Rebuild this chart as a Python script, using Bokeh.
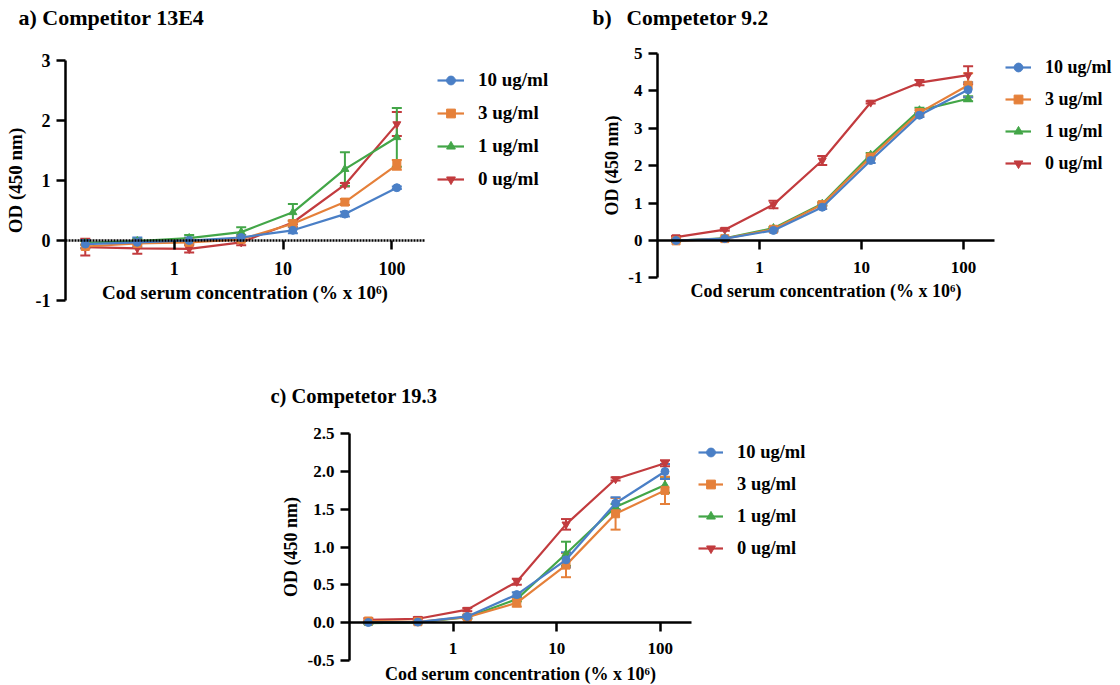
import math
from bokeh.plotting import figure
from bokeh.models import (ColumnDataSource, Whisker, TeeHead, Legend, LegendItem,
                          FixedTicker, Range1d, Label)
from bokeh.layouts import column, row
from bokeh.embed import file_html
from bokeh.resources import INLINE

FONT = "Liberation Serif"

# ---------------- data ----------------
conc = [0.152, 0.457, 1.37, 4.12, 12.3, 37.0, 111.0]
series_names = ["10 ug/ml", "3 ug/ml", "1 ug/ml", "0 ug/ml"]
colors = ["#4a7fc6", "#e5803a", "#43a648", "#c23b3e"]
markers = ["circle", "square", "triangle", "inverted_triangle"]

# a) Competitor 13E4
a_10 = [-0.06, -0.03, 0.00, 0.05, 0.17, 0.44, 0.88]
a_10_sd = [0.07, 0.08, 0.05, 0.04, 0.05, 0.04, 0.02]
a_3 = [-0.10, -0.05, -0.03, 0.02, 0.28, 0.64, 1.26]
a_3_sd = [0.03, 0.03, 0.03, 0.03, 0.05, 0.05, 0.08]
a_1 = [-0.04, -0.01, 0.04, 0.14, 0.47, 1.19, 1.72]
a_1_sd = [0.03, 0.04, 0.05, 0.08, 0.14, 0.28, 0.49]
a_0 = [-0.11, -0.13, -0.14, -0.03, 0.30, 0.93, 1.94]
a_0_sd = [0.14, 0.09, 0.06, 0.05, 0.03, 0.03, 0.20]

# b) Competetor 9.2
b_10 = [0.00, 0.05, 0.27, 0.89, 2.14, 3.35, 4.03]
b_10_sd = [0.02, 0.02, 0.03, 0.05, 0.07, 0.05, 0.20]
b_3 = [-0.01, 0.05, 0.30, 0.96, 2.23, 3.42, 4.15]
b_3_sd = [0.03, 0.02, 0.03, 0.04, 0.05, 0.06, 0.32]
b_1 = [0.00, 0.06, 0.33, 0.98, 2.29, 3.48, 3.79]
b_1_sd = [0.02, 0.02, 0.03, 0.04, 0.05, 0.07, 0.07]
b_0 = [0.09, 0.29, 0.96, 2.14, 3.69, 4.22, 4.42]
b_0_sd = [0.03, 0.03, 0.10, 0.12, 0.03, 0.07, 0.24]

# c) Competetor 19.3
c_10 = [0.00, 0.005, 0.08, 0.37, 0.83, 1.58, 2.00]
c_10_sd = [0.01, 0.01, 0.02, 0.03, 0.10, 0.08, 0.10]
c_3 = [0.02, 0.01, 0.07, 0.26, 0.76, 1.44, 1.75]
c_3_sd = [0.01, 0.01, 0.02, 0.05, 0.16, 0.21, 0.18]
c_1 = [-0.01, 0.00, 0.07, 0.31, 0.91, 1.53, 1.82]
c_1_sd = [0.01, 0.01, 0.02, 0.03, 0.16, 0.04, 0.10]
c_0 = [0.035, 0.05, 0.17, 0.54, 1.30, 1.90, 2.11]
c_0_sd = [0.02, 0.02, 0.02, 0.04, 0.07, 0.02, 0.04]

x_bounds = (0.1, 199.5)
x_ticks = [1, 10, 100]
x_tick_labels = ["1", "10", "100"]
a_yticks = [-1, 0, 1, 2, 3]
a_ylabels = ["-1", "0", "1", "2", "3"]
b_yticks = [-1, 0, 1, 2, 3, 4, 5]
b_ylabels = ["-1", "0", "1", "2", "3", "4", "5"]
c_yticks = [-0.5, 0.0, 0.5, 1.0, 1.5, 2.0, 2.5]
c_ylabels = ["-0.5", "0.0", "0.5", "1.0", "1.5", "2.0", "2.5"]

x_label = "Cod serum concentration (% x 10\u2076)"
y_label = "OD (450 nm)"


def make_panel(title_parts, ys, sds, ybounds, yticks, ylabels, g):
    W, H = g["W"], g["H"]
    ax_px, dec = g["ax_px"], g["dec"]
    y0, u = g["y0"], g["u"]
    lx0 = math.log10(x_bounds[0])
    x_start = 10 ** (lx0 - ax_px / dec)
    x_end = 10 ** (lx0 + (W - ax_px) / dec)
    y_end = y0 / u
    y_start = -(H - y0) / u

    p = figure(x_axis_type="log", x_range=Range1d(x_start, x_end),
               y_range=Range1d(y_start, y_end), width=W, height=H,
               min_border=0, min_border_left=0, min_border_right=0,
               min_border_top=0, min_border_bottom=0,
               output_backend="svg", toolbar_location=None)
    p.outline_line_color = None
    p.xgrid.visible = False
    p.ygrid.visible = False
    p.background_fill_color = "white"
    p.border_fill_color = "white"

    xa = p.xaxis[0]
    xa.fixed_location = 0
    xa.bounds = x_bounds
    xa.ticker = FixedTicker(ticks=x_ticks)
    xa.major_label_overrides = dict(zip(x_ticks, x_tick_labels))
    ya = p.yaxis[0]
    ya.fixed_location = x_bounds[0]
    ya.bounds = ybounds
    ya.ticker = FixedTicker(ticks=yticks)
    ya.major_label_overrides = dict(zip(yticks, ylabels))
    for ax in (xa, ya):
        ax.axis_line_width = 2.5
        ax.axis_line_color = "black"
        ax.major_tick_line_width = 2.5
        ax.major_tick_line_color = "black"
        ax.major_tick_in = 0
        ax.major_tick_out = 9
        ax.minor_tick_line_color = None
        ax.major_label_text_font = FONT
        ax.major_label_text_font_style = "bold"
        ax.major_label_text_font_size = g["tfs"]
        ax.major_label_text_color = "black"
        ax.axis_label_text_font = FONT
        ax.axis_label_text_font_style = "bold"
        ax.axis_label_text_font_size = g["lfs"]
        ax.axis_label_text_color = "black"
    xa.axis_label = x_label
    ya.axis_label = y_label
    xa.major_label_standoff = g["xstand"]
    xa.axis_label_standoff = g["xlstand"]
    ya.major_label_standoff = 6
    ya.axis_label_standoff = g["ylstand"]
    if g.get("dash"):
        xa.axis_line_dash = "2 1"

    rend = {}
    for i in [3, 2, 1, 0]:
        src = ColumnDataSource(dict(x=conc, y=ys[i],
                                    lo=[v - e for v, e in zip(ys[i], sds[i])],
                                    hi=[v + e for v, e in zip(ys[i], sds[i])]))
        w = Whisker(source=src, base="x", upper="hi", lower="lo",
                    line_color=colors[i], line_width=2,
                    upper_head=TeeHead(size=10, line_color=colors[i], line_width=2),
                    lower_head=TeeHead(size=10, line_color=colors[i], line_width=2))
        p.add_layout(w)
        l = p.line("x", "y", source=src, line_color=colors[i], line_width=2.2)
        s = p.scatter("x", "y", source=src, marker=markers[i], size=8,
                      fill_color=colors[i], line_color=colors[i])
        rend[i] = [l, s]
    items = [LegendItem(label=series_names[i], renderers=rend[i]) for i in range(4)]
    leg = Legend(items=items, location=g["legloc"], border_line_color=None,
                 background_fill_alpha=0, padding=0, margin=0,
                 spacing=g["lspace"], glyph_width=g["gw"], glyph_height=22,
                 label_height=20, label_standoff=14,
                 label_text_font=FONT, label_text_font_style="bold",
                 label_text_font_size=g["legfs"], label_text_color="black")
    p.add_layout(leg)

    for text, tx in title_parts:
        p.add_layout(Label(x=tx, y=g["ty"], x_units="screen", y_units="screen",
                           text=text, text_font=FONT, text_font_style="bold",
                           text_font_size=g["titfs"], text_baseline="middle",
                           text_align="left", text_color="black"))
    return p


ga = dict(W=583, H=318, ax_px=65, dec=108.8, y0=240, u=60.0,
          tfs="18px", lfs="19px", xstand=12, xlstand=4, ylstand=7, dash=True,
          legloc=(437, 128), lspace=11, gw=27, legfs="19px",
          ty=301, titfs="22px")
gb = dict(W=537, H=318, ax_px=74, dec=102.0, y0=240, u=37.4,
          tfs="17px", lfs="18px", xstand=12, xlstand=5, ylstand=3,
          legloc=(422, 144), lspace=10, gw=26, legfs="18px",
          ty=301, titfs="21.5px")
gc = dict(W=1120, H=367, ax_px=349, dec=103.6, y0=304, u=75.5,
          tfs="17px", lfs="18px", xstand=11, xlstand=7, ylstand=4,
          legloc=(698, 126), lspace=10, gw=25, legfs="18.5px",
          ty=290, titfs="20.5px")

pa = make_panel([("a) Competitor 13E4", 18)], [a_10, a_3, a_1, a_0],
                [a_10_sd, a_3_sd, a_1_sd, a_0_sd], (-1, 3), a_yticks, a_ylabels, ga)
pb = make_panel([("b)", 9), ("Competetor 9.2", 43)], [b_10, b_3, b_1, b_0],
                [b_10_sd, b_3_sd, b_1_sd, b_0_sd], (-1, 5), b_yticks, b_ylabels, gb)
pc = make_panel([("c) Competetor 19.3", 270)], [c_10, c_3, c_1, c_0],
                [c_10_sd, c_3_sd, c_1_sd, c_0_sd], (-0.5, 2.5), c_yticks, c_ylabels, gc)

layout = column(row(pa, pb), pc)
open("out.html", "w").write(file_html(layout, INLINE))
